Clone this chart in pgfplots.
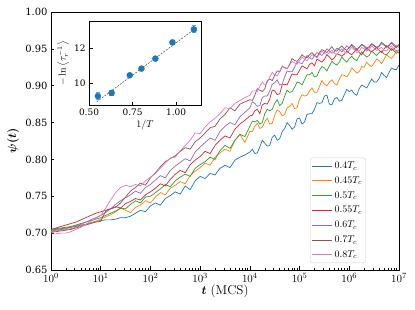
\documentclass[border=0pt]{standalone}
\usepackage{fontspec}
\usepackage{bm}
\usepackage{pgfplots}
\usepackage{pgfplotstable}
\pgfplotsset{compat=1.18}
\newfontfamily\djv{DejaVu Serif}
\definecolor{c0}{HTML}{1F77B4}
\definecolor{c1}{HTML}{FF7F0E}
\definecolor{c2}{HTML}{2CA02C}
\definecolor{c3}{HTML}{D62728}
\definecolor{c4}{HTML}{9467BD}
\definecolor{c5}{HTML}{8C564B}
\definecolor{c6}{HTML}{E377C2}
\pgfplotstableread{
L b o g r p w k
0.0 .704 .702 .705 .705 .703 .701 .699
0.1 .705 .703 .706 .707 .704 .702 .699
0.2 .706 .704 .707 .709 .705 .703 .700
0.3 .707 .705 .708 .711 .706 .704 .700
0.4 .708 .706 .709 .713 .708 .705 .702
0.5 .709 .708 .711 .715 .710 .707 .705
0.6 .711 .710 .713 .718 .712 .709 .708
0.7 .712 .712 .715 .721 .715 .711 .712
0.8 .714 .714 .717 .724 .718 .713 .716
0.9 .716 .716 .719 .727 .721 .715 .720
1.0 .717 .719 .721 .729 .724 .716 .724
1.1 .718 .722 .724 .731 .728 .730 .734
1.2 .718 .725 .727 .733 .733 .733 .745
1.3 .719 .729 .730 .736 .739 .735 .755
1.4 .721 .734 .734 .734 .744 .741 .762
1.5 .721 .731 .733 .740 .748 .749 .765
1.6 .723 .728 .739 .743 .752 .757 .763
1.7 .727 .735 .744 .747 .757 .762 .766
1.8 .731 .738 .741 .745 .754 .768 .764
1.9 .729 .744 .749 .752 .762 .765 .771
2.0 .737 .741 .750 .756 .766 .775 .776
2.1 .741 .749 .755 .761 .772 .782 .781
2.2 .738 .755 .760 .767 .778 .790 .788
2.3 .747 .752 .766 .764 .775 .797 .795
2.4 .751 .761 .763 .773 .785 .801 .802
2.5 .756 .765 .771 .780 .791 .805 .803
2.6 .753 .770 .776 .785 .796 .811 .812
2.7 .764 .767 .780 .782 .801 .816 .819
2.8 .759 .778 .777 .793 .798 .814 .826
2.9 .771 .784 .788 .799 .810 .824 .836
3.0 .777 .789 .793 .804 .817 .829 .835
3.1 .774 .795 .797 .811 .823 .836 .844
3.2 .781 .792 .803 .808 .829 .843 .851
3.3 .779 .803 .800 .819 .826 .845 .856
3.4 .788 .809 .812 .826 .838 .855 .862
3.5 .792 .814 .819 .832 .845 .861 .870
3.6 .789 .811 .815 .829 .850 .870 .869
3.7 .799 .826 .826 .841 .847 .866 .876
3.8 .803 .834 .834 .848 .858 .875 .880
3.9 .806 .823 .831 .853 .864 .878 .884
4.0 .810 .838 .845 .859 .870 .881 .887
4.05 .814 .838 .852 .860 .878 .880 .893
4.1 .808 .845 .851 .866 .876 .887 .893
4.15 .809 .849 .853 .868 .872 .896 .892
4.2 .817 .842 .848 .862 .873 .894 .899
4.25 .826 .844 .850 .874 .884 .892 .905
4.3 .822 .851 .862 .876 .886 .896 .901
4.35 .818 .856 .868 .875 .886 .907 .904
4.4 .819 .848 .866 .882 .893 .909 .912
4.45 .830 .849 .868 .894 .902 .907 .918
4.5 .833 .860 .876 .893 .904 .914 .915
4.55 .826 .867 .881 .888 .908 .920 .913
4.6 .828 .865 .873 .889 .901 .919 .919
4.65 .838 .859 .876 .901 .902 .926 .927
4.7 .842 .861 .886 .902 .912 .925 .924
4.75 .850 .870 .894 .901 .920 .923 .923
4.8 .846 .872 .891 .909 .919 .929 .928
4.85 .841 .876 .892 .916 .919 .937 .933
4.9 .844 .869 .898 .915 .925 .934 .931
4.95 .855 .870 .905 .915 .932 .933 .929
5.0 .856 .882 .904 .921 .931 .937 .934
5.05 .848 .888 .901 .927 .930 .942 .939
5.1 .851 .886 .908 .925 .935 .939 .936
5.15 .861 .887 .915 .923 .941 .938 .934
5.2 .862 .893 .915 .929 .938 .942 .938
5.25 .862 .897 .918 .931 .936 .945 .942
5.3 .868 .891 .912 .927 .941 .941 .940
5.35 .877 .891 .913 .936 .945 .939 .938
5.4 .876 .899 .921 .934 .943 .945 .942
5.45 .877 .907 .926 .932 .941 .949 .947
5.5 .886 .902 .924 .936 .945 .947 .944
5.55 .887 .900 .920 .942 .950 .945 .942
5.6 .875 .905 .927 .939 .947 .949 .945
5.65 .874 .908 .933 .935 .944 .953 .948
5.7 .882 .903 .930 .938 .946 .948 .944
5.75 .884 .901 .928 .943 .951 .947 .942
5.8 .879 .909 .932 .942 .949 .951 .947
5.85 .880 .915 .939 .940 .946 .954 .950
5.9 .888 .914 .935 .943 .950 .950 .946
5.95 .895 .912 .932 .947 .954 .948 .944
6.0 .892 .917 .937 .944 .951 .952 .948
6.05 .894 .924 .940 .942 .955 .956 .952
6.1 .889 .921 .936 .946 .950 .953 .949
6.15 .887 .917 .934 .950 .948 .949 .945
6.2 .896 .919 .940 .945 .952 .952 .947
6.25 .901 .926 .946 .942 .956 .956 .952
6.3 .899 .925 .942 .947 .953 .954 .950
6.35 .897 .932 .939 .951 .949 .951 .947
6.4 .903 .928 .941 .948 .952 .953 .949
6.45 .909 .926 .947 .946 .956 .957 .954
6.5 .905 .931 .944 .949 .954 .955 .951
6.55 .905 .936 .941 .952 .951 .952 .948
6.6 .910 .934 .945 .948 .953 .954 .950
6.65 .918 .930 .947 .945 .957 .959 .952
6.7 .914 .936 .943 .950 .955 .956 .948
6.75 .911 .942 .942 .954 .952 .953 .947
6.8 .918 .939 .946 .951 .954 .955 .951
6.85 .924 .937 .951 .948 .959 .958 .954
6.9 .922 .941 .947 .950 .956 .954 .950
6.95 .922 .948 .944 .954 .953 .952 .946
7.0 .928 .944 .946 .952 .955 .956 .949
}\curves
\pgfplotstableread{
x y e
0.551 9.27 0.20
0.630 9.45 0.15
0.734 10.46 0.08
0.801 10.84 0.07
0.881 11.41 0.08
0.979 12.34 0.10
1.102 13.08 0.20
}\taudata
\begin{document}
\begin{tikzpicture}
\begin{axis}[
  at={(0,0)}, anchor=south west,
  scale only axis, width=348bp, height=258bp,
  xmode=log, xmin=1, xmax=1e7, ymin=0.65, ymax=1,
  xtick={1,10,100,1000,10000,100000,1000000,10000000},
  ytick={0.65,0.7,0.75,0.8,0.85,0.9,0.95,1},
  yticklabels={0.65,0.70,0.75,0.80,0.85,0.90,0.95,1.00},
  yticklabel style={font=\djv\fontsize{10}{12}\selectfont},
  xticklabel style={font=\fontsize{11}{12}\selectfont},
  tick align=inside, tick pos=left,
  major tick length=3.5bp, minor tick length=2bp,
  every tick/.style={black, line width=0.6pt},
  axis line style={line width=0.8pt},
  xlabel={$\bm{t}$ (MCS)},
  x label style={at={(axis description cs:0.5,-0.058)}, anchor=north, inner sep=0pt, font=\fontsize{13}{15}\selectfont},
  ylabel={$\bm{\psi(t)}$},
  y label style={at={(axis description cs:-0.109,0.5)}, anchor=center, inner sep=0pt, font=\fontsize{13}{15}\selectfont},
  legend cell align=left,
  legend style={at={(0.905,0.027)}, anchor=south east, font=\fontsize{10}{12}\selectfont,
    draw=black!20, rounded corners=2bp, fill=white, row sep=2.5bp, inner xsep=1.5bp, inner ysep=2bp},
  legend image code/.code={\draw[#1] (0bp,0bp) -- (20bp,0bp);},
  every axis plot/.append style={line width=0.7pt},
]
\addplot[c0] table[x expr=10^\thisrow{L}, y=b] {\curves}; \addlegendentry{$0.4T_c$}
\addplot[c1] table[x expr=10^\thisrow{L}, y=o] {\curves}; \addlegendentry{$0.45T_c$}
\addplot[c2] table[x expr=10^\thisrow{L}, y=g] {\curves}; \addlegendentry{$0.5T_c$}
\addplot[c3] table[x expr=10^\thisrow{L}, y=r] {\curves}; \addlegendentry{$0.55T_c$}
\addplot[c4] table[x expr=10^\thisrow{L}, y=p] {\curves}; \addlegendentry{$0.6T_c$}
\addplot[c5] table[x expr=10^\thisrow{L}, y=w] {\curves}; \addlegendentry{$0.7T_c$}
\addplot[c6] table[x expr=10^\thisrow{L}, y=k] {\curves}; \addlegendentry{$0.8T_c$}
\end{axis}
\begin{axis}[
  at={(38bp,164.3bp)}, anchor=south west,
  scale only axis, width=112bp, height=84.7bp,
  xmin=0.5, xmax=1.143, ymin=8.72, ymax=13.56,
  xtick={0.5,0.75,1}, xticklabels={0.50,0.75,1.00},
  ytick={10,12}, yticklabels={10,12},
  ticklabel style={font=\djv\fontsize{9}{10}\selectfont},
  tick align=inside, tick pos=left,
  major tick length=3.5bp,
  every tick/.style={black, line width=0.6pt},
  axis line style={line width=0.8pt},
  axis background/.style={fill=white},
  xlabel={$1/T$},
  x label style={at={(axis description cs:0.5,-0.17)}, anchor=north, inner sep=0pt, font=\fontsize{10}{11}\selectfont},
  ylabel={$-\ln\left\langle\tau_r^{-1}\right\rangle$},
  y label style={at={(axis description cs:-0.23,0.5)}, anchor=center, inner sep=0pt, font=\fontsize{10}{11}\selectfont},
]
\addplot[black!70, line width=0.5pt, dash pattern=on 2pt off 1.2pt] coordinates {(0.545,8.95) (1.12,13.2)};
\addplot[c0!65!white, only marks, mark=none, line width=0.8pt,
  error bars/.cd, y dir=both, y explicit, error bar style={line width=0.8pt},
  error mark options={rotate=90, mark size=2.2bp, line width=0.8pt}]
  table[x=x, y=y, y error=e] {\taudata};
\addplot[c0, only marks, mark=*, mark size=3bp] table[x=x, y=y] {\taudata};
\end{axis}
\pgfresetboundingbox
\path (-51bp,-40bp) rectangle (364bp,270bp);
\end{tikzpicture}
\end{document}
